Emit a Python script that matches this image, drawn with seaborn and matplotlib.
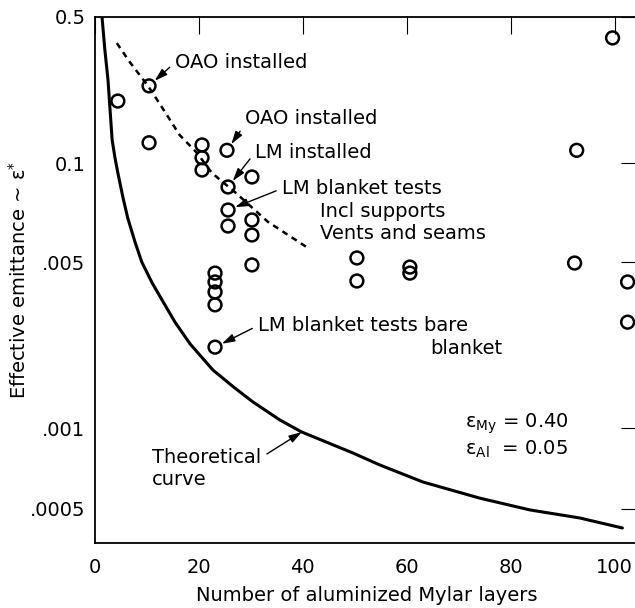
import numpy as np
import matplotlib
matplotlib.use("Agg")
import matplotlib.pyplot as plt
import seaborn as sns
from matplotlib.ticker import FixedLocator, FixedFormatter, NullLocator

# ---------------- data ----------------
point_layers = [4.4, 10.4, 10.4, 20.6, 20.6, 20.6, 25.4, 25.6, 30.2, 25.6, 25.6,
                30.2, 30.2, 30.2, 23.1, 23.1, 23.1, 23.1, 23.1, 99.6, 92.7,
                50.4, 50.4, 60.6, 60.6, 92.3, 102.5, 102.5]
point_emit = [0.198, 0.234, 0.125, 0.122, 0.106, 0.0809, 0.115, 0.0484, 0.0655,
              0.0241, 0.01486, 0.01782, 0.01132, 0.00486, 0.00449, 0.00412,
              0.00374, 0.0033, 0.00219, 0.397, 0.115, 0.00565, 0.00416,
              0.00476, 0.00449, 0.00495, 0.00412, 0.00279]

trend_layers = [4.2, 6.7, 10.2, 13.5, 16.3, 19.6, 22.5, 26.9, 33.3, 41.0]
trend_emit = [0.375, 0.304, 0.234, 0.175, 0.136, 0.112, 0.0739, 0.0416, 0.0168, 0.00764]

theory_layers = [1.35, 1.9, 2.5, 2.9, 3.3, 3.85, 4.4, 5.4, 6.3, 7.7, 9.0, 11.0,
                 12.9, 15.4, 18.3, 22.7, 26.9, 30.4, 35.6, 39.8, 49.6, 54.8,
                 63.1, 74.0, 83.7, 93.3, 101.5]
theory_emit = [0.5, 0.3475, 0.25, 0.1794, 0.129, 0.1057, 0.0739, 0.0347, 0.01894,
               0.00916, 0.0050, 0.00408, 0.00346, 0.00279, 0.00226, 0.001754,
               0.001474, 0.001287, 0.00108, 0.000966, 0.000808, 0.000729,
               0.00063, 0.000549, 0.000496, 0.000463, 0.000425]

x_ticks = [0, 20, 40, 60, 80, 100]
x_tick_labels = ["0", "20", "40", "60", "80", "100"]
y_ticks = [0.5, 0.1, 0.005, 0.001, 0.0005]
y_tick_labels = ["0.5", "0.1", ".005", ".001", ".0005"]

# ---------------- style ----------------
sns.set_theme(style="white")
plt.rcParams["font.family"] = ["DejaVu Sans"]
plt.rcParams["font.size"] = 14
plt.rcParams["mathtext.default"] = "regular"
plt.rcParams["text.color"] = "black"
plt.rcParams["axes.labelcolor"] = "black"
plt.rcParams["xtick.color"] = "black"
plt.rcParams["ytick.color"] = "black"

fig = plt.figure(figsize=(6.35, 6.08), dpi=100)
ax = fig.add_axes([95 / 635, 65 / 608, 543 / 635, 526 / 608])

# the printed axis is a non-uniform logarithmic scale: piecewise log mapping
LOGS = [-4.0, -3.30103, -3.0, -2.30103, -1.0, -0.30103, 0.5]
POS = [-154.1, 34.0, 115.0, 281.0, 380.0, 526.0, 693.3]


def fwd(v):
    v = np.clip(np.asarray(v, dtype=float), 1e-12, None)
    return np.interp(np.log10(v), LOGS, POS)


def inv(p):
    return 10 ** np.interp(np.asarray(p, dtype=float), POS, LOGS)


ax.set_yscale("function", functions=(fwd, inv))

# theoretical curve
sns.lineplot(x=theory_layers, y=theory_emit, ax=ax, sort=False, color="black",
             linewidth=2.2, estimator=None)
# dashed trend
sns.lineplot(x=trend_layers, y=trend_emit, ax=ax, sort=False, color="black",
             linewidth=1.8, linestyle=(0, (2.4, 2.0)), estimator=None)
# measured points
sns.scatterplot(x=point_layers, y=point_emit, ax=ax, marker="o", s=85,
                facecolors="none", edgecolors="black", linewidths=1.8, zorder=3)

ax.set_xlim(0, 104.5)
ax.set_ylim(float(inv(0.0)), 0.5)

ax.xaxis.set_major_locator(FixedLocator(x_ticks))
ax.xaxis.set_major_formatter(FixedFormatter(x_tick_labels))
ax.yaxis.set_major_locator(FixedLocator(y_ticks))
ax.yaxis.set_major_formatter(FixedFormatter(y_tick_labels))
ax.yaxis.set_minor_locator(NullLocator())
ax.xaxis.set_minor_locator(NullLocator())

ax.tick_params(direction="in", length=12.5, width=0.8, color="black",
               top=True, right=True, labelsize=14, labelcolor="black")
ax.tick_params(axis="x", pad=10.5)
ax.tick_params(axis="y", pad=7)

for sp in ax.spines.values():
    sp.set_visible(True)
    sp.set_color("black")
    sp.set_linewidth(1.3)

ax.set_xlabel("Number of aluminized Mylar layers", fontsize=14, color="black")
ax.set_ylabel("Effective emittance ~ ε$^{*}$", fontsize=14, color="black")
ax.xaxis.set_label_coords(0.5, -0.0817)
ax.yaxis.set_label_coords(-0.1197, 0.5)

ARROW = "-|>,head_length=0.55,head_width=0.17"


def note(text, xy, xytext, relpos=(0, 0.5), shrinkB=5.5, ha="left"):
    ax.annotate(text, xy=xy, xycoords="data", xytext=xytext,
                textcoords="axes fraction", ha=ha, va="baseline", fontsize=14,
                color="black",
                arrowprops=dict(arrowstyle=ARROW, color="black", lw=1.0,
                                shrinkA=2, shrinkB=shrinkB, relpos=relpos))


def label(text, xytext):
    ax.text(xytext[0], xytext[1], text, transform=ax.transAxes, va="baseline",
            fontsize=14, color="black")


note("OAO installed", (point_layers[1], point_emit[1]), (0.1473, 0.9030))
note("OAO installed", (point_layers[6], point_emit[6]), (0.2762, 0.7966), relpos=(0, 0.2))
note("LM installed", (point_layers[7], point_emit[7]), (0.2947, 0.7319))
note("LM blanket tests", (point_layers[9], point_emit[9]), (0.3444, 0.6635))
label("Incl supports", (0.4144, 0.6198))
label("Vents and seams", (0.4144, 0.5779))
note("LM blanket tests bare", (point_layers[18], point_emit[18]), (0.3002, 0.4030))
label("blanket", (0.6169, 0.3593))
note("Theoretical", (theory_layers[19], theory_emit[19]), (0.105, 0.1521),
     relpos=(1, 0.5), shrinkB=0)
label("curve", (0.105, 0.1103))
label("ε$_{My}$ = 0.40", (0.6814, 0.2186))
label("ε$_{Al}$  = 0.05", (0.6814, 0.1673))

fig.savefig("out.png", dpi=100)
